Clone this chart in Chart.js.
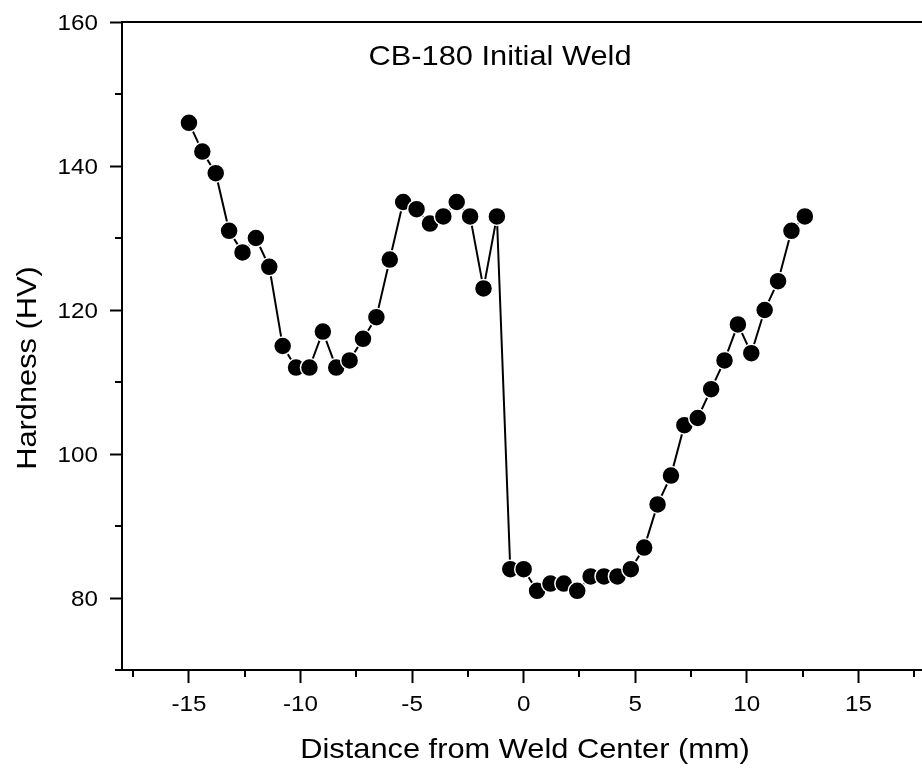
<!DOCTYPE html>
<html>
<head>
<meta charset="utf-8">
<script src="https://cdn.jsdelivr.net/npm/chart.js@4/dist/chart.umd.min.js"></script>
<style>
html,body{margin:0;padding:0;background:#fff;}
#wrap{width:922px;height:772px;position:relative;}
canvas{display:block;}
</style>
</head>
<body>
<div id="wrap"><canvas id="c" width="922" height="772"></canvas></div>
<script>
// ---- data ----
const distance = [-15.0,-14.4,-13.8,-13.2,-12.6,-12.0,-11.4,-10.8,-10.2,-9.6,-9.0,-8.4,-7.8,-7.2,-6.6,-6.0,-5.4,-4.8,-4.2,-3.6,-3.0,-2.4,-1.8,-1.2,-0.6,0.0,0.6,1.2,1.8,2.4,3.0,3.6,4.2,4.8,5.4,6.0,6.6,7.2,7.8,8.4,9.0,9.6,10.2,10.8,11.4,12.0,12.6];
const hardness = [146,142,139,131,128,130,126,115,112,112,117,112,113,116,119,127,135,134,132,133,135,133,123,133,84,84,81,82,82,81,83,83,83,84,87,93,97,104,105,109,113,118,114,120,124,131,133];
const xTicks = [-15,-10,-5,0,5,10,15];
const xMinorTicks = [-17.5,-12.5,-7.5,-2.5,2.5,7.5,12.5,17.5];
const yTicks = [80,100,120,140,160];
const yMinorTicks = [70,90,110,130,150];
const chartTitle = 'CB-180 Initial Weld';
const xTitle = 'Distance from Weld Center (mm)';
const yTitle = 'Hardness (HV)';

const FONT = "'Liberation Sans', Arial, Helvetica, sans-serif";
const STRETCH = 1.1;

function drawText(ctx, text, x, y, align, size, rotate) {
  ctx.save();
  ctx.translate(x, y);
  if (rotate) ctx.rotate(-Math.PI / 2);
  ctx.scale(STRETCH, 1);
  ctx.font = size + 'px ' + FONT;
  ctx.fillStyle = '#000';
  ctx.textAlign = align;
  ctx.textBaseline = 'alphabetic';
  ctx.fillText(text, 0, 0);
  ctx.restore();
}

const decor = {
  id: 'decor',
  afterDraw(chart) {
    const ctx = chart.ctx;
    const a = chart.chartArea;
    const xs = chart.scales.x, ys = chart.scales.y;
    ctx.save();
    ctx.strokeStyle = '#000';
    ctx.lineWidth = 2;
    // top frame line
    ctx.beginPath();
    ctx.moveTo(a.left - 1, a.top);
    ctx.lineTo(chart.width, a.top);
    ctx.stroke();
    // minor ticks
    ctx.beginPath();
    xMinorTicks.forEach(v => {
      const px = Math.round(xs.getPixelForValue(v));
      ctx.moveTo(px, a.bottom);
      ctx.lineTo(px, a.bottom + 7);
    });
    yMinorTicks.forEach(v => {
      const py = Math.round(ys.getPixelForValue(v));
      ctx.moveTo(a.left, py);
      ctx.lineTo(a.left - 7, py);
    });
    ctx.stroke();
    ctx.restore();
    // tick labels
    xTicks.forEach(v => {
      drawText(ctx, String(v), xs.getPixelForValue(v), a.bottom + 41, 'center', 22, false);
    });
    yTicks.forEach(v => {
      drawText(ctx, String(v), a.left - 24, ys.getPixelForValue(v) + 8, 'right', 22, false);
    });
    // titles
    drawText(ctx, chartTitle, a.left + 378, a.top + 43, 'center', 28, false);
    drawText(ctx, xTitle, a.left + 403, a.bottom + 88, 'center', 28, false);
    drawText(ctx, yTitle, 36, a.top + 346, 'center', 28, true);
  }
};

const points = distance.map((x, i) => ({ x: x, y: hardness[i] }));

new Chart(document.getElementById('c').getContext('2d'), {
  type: 'scatter',
  data: {
    datasets: [{
      data: points,
      showLine: true,
      borderColor: '#000',
      borderWidth: 2,
      backgroundColor: '#000',
      pointBackgroundColor: '#000',
      pointBorderColor: '#fff',
      pointBorderWidth: 1.5,
      pointRadius: 9,
      pointHoverRadius: 9,
      tension: 0,
      clip: false
    }]
  },
  options: {
    responsive: false,
    animation: false,
    events: [],
    layout: { autoPadding: false, padding: { top: 22, left: 0, right: 0, bottom: 0 } },
    plugins: { legend: { display: false }, tooltip: { enabled: false }, title: { display: false } },
    scales: {
      x: {
        type: 'linear',
        min: -18,
        max: 17.85,
        afterBuildTicks: s => { s.ticks = xTicks.map(v => ({ value: v })); },
        afterFit: s => { s.height = 102; },
        ticks: { display: false },
        grid: { drawOnChartArea: false, drawTicks: true, tickLength: 13, tickWidth: 2, tickColor: '#000' },
        border: { display: true, color: '#000', width: 2 }
      },
      y: {
        type: 'linear',
        min: 70,
        max: 160,
        afterBuildTicks: s => { s.ticks = yTicks.map(v => ({ value: v })); },
        afterFit: s => { s.width = 122; },
        ticks: { display: false },
        grid: { drawOnChartArea: false, drawTicks: true, tickLength: 12, tickWidth: 2, tickColor: '#000' },
        border: { display: true, color: '#000', width: 2 }
      }
    }
  },
  plugins: [decor]
});
</script>
</body>
</html>
